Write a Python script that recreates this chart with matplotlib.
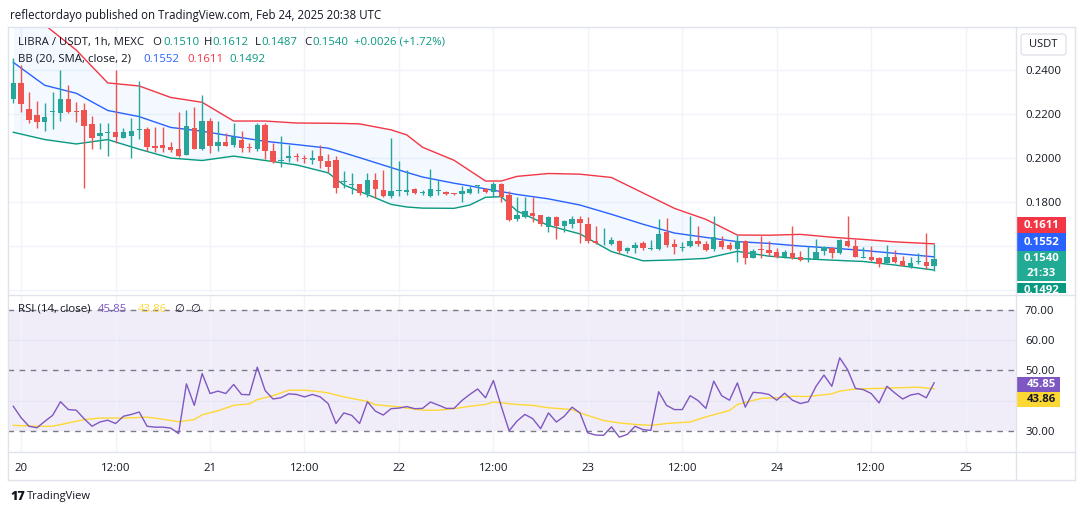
import numpy as np
import matplotlib
matplotlib.use("Agg")
import matplotlib.pyplot as plt
from matplotlib.patches import Rectangle, FancyBboxPatch
from matplotlib.lines import Line2D

plt.rcParams['font.family'] = ['Open Sans', 'DejaVu Sans']

# LIBRA/USDT 1h candles, first candle = Feb 19 23:00
opens = [0.2266, 0.2339, 0.2223, 0.2195, 0.2165, 0.2211, 0.2206, 0.2268, 0.2210, 0.2218,
         0.2155, 0.2102, 0.2112, 0.2118, 0.2093, 0.2102, 0.2126, 0.2133, 0.2055, 0.2059,
         0.2052, 0.2043, 0.2014, 0.2135, 0.2040, 0.2168, 0.2055, 0.2072, 0.2059, 0.2082,
         0.2049, 0.2041, 0.2150, 0.2032, 0.1987, 0.1999, 0.2007, 0.1997, 0.1990, 0.2010,
         0.1987, 0.1991, 0.1892, 0.1880, 0.1883, 0.1836, 0.1901, 0.1855, 0.1829, 0.1849,
         0.1845, 0.1860, 0.1842, 0.1829, 0.1851, 0.1848, 0.1838, 0.1836, 0.1843, 0.1872,
         0.1859, 0.1848, 0.1883, 0.1833, 0.1724, 0.1734, 0.1752, 0.1742, 0.1689, 0.1732,
         0.1693, 0.1701, 0.1724, 0.1701, 0.1624, 0.1613, 0.1610, 0.1624, 0.1579, 0.1594,
         0.1614, 0.1587, 0.1586, 0.1663, 0.1610, 0.1591, 0.1603, 0.1624, 0.1610, 0.1588,
         0.1624, 0.1606, 0.1586, 0.1624, 0.1548, 0.1584, 0.1585, 0.1576, 0.1551, 0.1571,
         0.1551, 0.1542, 0.1542, 0.1580, 0.1594, 0.1568, 0.1624, 0.1601, 0.1549, 0.1553,
         0.1548, 0.1526, 0.1550, 0.1533, 0.1505, 0.1527, 0.1527, 0.1510]
highs = [0.2454, 0.2422, 0.2298, 0.2259, 0.2249, 0.2298, 0.2400, 0.2332, 0.2256, 0.2249,
         0.2191, 0.2158, 0.2161, 0.2400, 0.2136, 0.2180, 0.2350, 0.2142, 0.2140, 0.2140,
         0.2074, 0.2210, 0.2218, 0.2233, 0.2286, 0.2180, 0.2168, 0.2112, 0.2158, 0.2123,
         0.2067, 0.2161, 0.2161, 0.2067, 0.2100, 0.2059, 0.2024, 0.2014, 0.2037, 0.2059,
         0.2017, 0.2010, 0.1941, 0.1934, 0.1883, 0.1931, 0.1931, 0.1946, 0.2093, 0.1987,
         0.1946, 0.1866, 0.1855, 0.1951, 0.1901, 0.1851, 0.1843, 0.1873, 0.1873, 0.1876,
         0.1866, 0.1890, 0.1885, 0.1852, 0.1825, 0.1825, 0.1825, 0.1744, 0.1737, 0.1735,
         0.1719, 0.1735, 0.1735, 0.1732, 0.1693, 0.1682, 0.1644, 0.1629, 0.1598, 0.1618,
         0.1624, 0.1629, 0.1724, 0.1730, 0.1632, 0.1618, 0.1735, 0.1692, 0.1624, 0.1735,
         0.1647, 0.1621, 0.1651, 0.1629, 0.1587, 0.1648, 0.1622, 0.1594, 0.1581, 0.1692,
         0.1580, 0.1601, 0.1633, 0.1602, 0.1598, 0.1632, 0.1735, 0.1632, 0.1595, 0.1601,
         0.1553, 0.1606, 0.1583, 0.1556, 0.1551, 0.1568, 0.1662, 0.1612]
lows = [0.2251, 0.2210, 0.2161, 0.2138, 0.2124, 0.2131, 0.2168, 0.2203, 0.2165, 0.1863,
        0.2040, 0.2043, 0.2011, 0.2067, 0.2090, 0.2002, 0.2087, 0.2034, 0.2029, 0.2029,
        0.2029, 0.2006, 0.2012, 0.2039, 0.2037, 0.2024, 0.2034, 0.2055, 0.2052, 0.2029,
        0.2029, 0.2034, 0.1996, 0.1976, 0.1961, 0.1984, 0.1987, 0.1976, 0.1972, 0.1954,
        0.1936, 0.1843, 0.1863, 0.1836, 0.1833, 0.1825, 0.1820, 0.1825, 0.1819, 0.1828,
        0.1833, 0.1839, 0.1833, 0.1825, 0.1833, 0.1833, 0.1833, 0.1802, 0.1837, 0.1840,
        0.1840, 0.1825, 0.1802, 0.1715, 0.1715, 0.1727, 0.1712, 0.1693, 0.1666, 0.1633,
        0.1666, 0.1682, 0.1616, 0.1616, 0.1609, 0.1606, 0.1606, 0.1564, 0.1571, 0.1571,
        0.1583, 0.1585, 0.1583, 0.1595, 0.1564, 0.1579, 0.1598, 0.1601, 0.1579, 0.1579,
        0.1586, 0.1583, 0.1530, 0.1520, 0.1546, 0.1546, 0.1557, 0.1548, 0.1548, 0.1541,
        0.1535, 0.1527, 0.1541, 0.1561, 0.1546, 0.1564, 0.1595, 0.1550, 0.1546, 0.1535,
        0.1508, 0.1523, 0.1526, 0.1511, 0.1500, 0.1520, 0.1496, 0.1487]
closes = [0.2342, 0.2244, 0.2173, 0.2165, 0.2185, 0.2214, 0.2268, 0.2210, 0.2209, 0.2147,
          0.2093, 0.2114, 0.2118, 0.2097, 0.2118, 0.2123, 0.2132, 0.2049, 0.2047, 0.2047,
          0.2037, 0.2011, 0.2146, 0.2041, 0.2168, 0.2056, 0.2072, 0.2056, 0.2094, 0.2047,
          0.2046, 0.2150, 0.2034, 0.1981, 0.1989, 0.2010, 0.2005, 0.1995, 0.2002, 0.1988,
          0.1961, 0.1863, 0.1894, 0.1882, 0.1840, 0.1901, 0.1859, 0.1829, 0.1851, 0.1851,
          0.1855, 0.1843, 0.1844, 0.1859, 0.1852, 0.1837, 0.1836, 0.1851, 0.1859, 0.1873,
          0.1845, 0.1881, 0.1825, 0.1719, 0.1742, 0.1760, 0.1739, 0.1700, 0.1732, 0.1693,
          0.1715, 0.1722, 0.1704, 0.1625, 0.1614, 0.1614, 0.1629, 0.1580, 0.1591, 0.1606,
          0.1591, 0.1588, 0.1656, 0.1606, 0.1595, 0.1598, 0.1624, 0.1609, 0.1583, 0.1641,
          0.1598, 0.1586, 0.1624, 0.1546, 0.1580, 0.1582, 0.1570, 0.1551, 0.1573, 0.1546,
          0.1538, 0.1543, 0.1576, 0.1595, 0.1568, 0.1629, 0.1603, 0.1553, 0.1551, 0.1538,
          0.1520, 0.1553, 0.1530, 0.1512, 0.1526, 0.1528, 0.1511, 0.1540]

# Bollinger bands (20, 2) read at some candles
bb_idx = [0, 4, 8, 12, 16, 20, 24, 28, 32, 36, 40, 42, 44, 48, 50, 52, 56, 58, 60, 62,
          64, 68, 72, 76, 80, 84, 88, 92, 96, 100, 104, 108, 112, 117]
bb_upper = [0.2712, 0.2604, 0.2490, 0.2341, 0.2327, 0.2275, 0.2253, 0.2168, 0.2168, 0.2159,
            0.2158, 0.2157, 0.2155, 0.2128, 0.2105, 0.2049, 0.1990, 0.1943, 0.1896, 0.1896,
            0.1917, 0.1930, 0.1927, 0.1912, 0.1842, 0.1772, 0.1722, 0.1651, 0.1650, 0.1654,
            0.1641, 0.1631, 0.1620, 0.1611]
bb_mid = [0.2434, 0.2330, 0.2294, 0.2216, 0.2188, 0.2139, 0.2122, 0.2098, 0.2076, 0.2061,
          0.2045, 0.2024, 0.2002, 0.1957, 0.1935, 0.1914, 0.1886, 0.1874, 0.1860, 0.1848,
          0.1835, 0.1815, 0.1787, 0.1745, 0.1700, 0.1660, 0.1640, 0.1621, 0.1613, 0.1601,
          0.1592, 0.1581, 0.1568, 0.1552]
bb_lower = [0.2117, 0.2084, 0.2064, 0.2084, 0.2040, 0.2000, 0.1989, 0.2009, 0.1989, 0.1969,
            0.1933, 0.1878, 0.1849, 0.1790, 0.1778, 0.1773, 0.1772, 0.1787, 0.1822, 0.1825,
            0.1760, 0.1694, 0.1656, 0.1576, 0.1534, 0.1538, 0.1545, 0.1577, 0.1555, 0.1544,
            0.1537, 0.1531, 0.1515, 0.1492]

# RSI (14) per candle
rsi = [38.1, 34.3, 31.5, 31.0, 33.1, 35.1, 39.6, 37.0, 36.8, 34.0,
       31.5, 32.9, 33.5, 32.4, 34.8, 35.4, 36.2, 31.5, 31.2, 31.2,
       30.9, 29.1, 45.5, 38.4, 48.9, 42.3, 43.1, 42.3, 45.3, 42.0,
       41.9, 51.0, 43.3, 40.5, 40.9, 42.2, 42.0, 41.2, 42.0, 41.2,
       39.0, 32.4, 35.9, 35.1, 32.4, 39.6, 36.5, 35.2, 37.3, 37.5,
       38.0, 37.3, 37.4, 39.5, 38.5, 37.4, 37.4, 40.0, 42.0, 43.8,
       40.9, 46.6, 38.1, 30.0, 33.2, 35.4, 34.0, 30.7, 35.9, 32.9,
       34.8, 37.8, 35.9, 29.3, 28.6, 28.5, 31.3, 27.9, 28.8, 31.5,
       30.4, 30.1, 42.9, 38.4, 37.0, 37.0, 41.6, 40.0, 37.4, 46.4,
       41.6, 40.1, 45.8, 37.8, 42.7, 42.5, 42.0, 40.1, 42.4, 40.1,
       39.0, 39.6, 44.7, 48.4, 44.7, 54.1, 50.2, 44.0, 43.6, 42.3,
       39.2, 44.7, 42.5, 40.5, 41.8, 42.3, 40.9, 45.85]

# RSI-based moving average, read at some candles
ma_idx = [0, 3, 5, 7, 9, 11, 14, 17, 18, 21, 23, 24, 26, 28, 30, 31, 33, 35, 37, 39,
          40, 42, 45, 46, 49, 52, 54, 56, 58, 60, 61, 64, 66, 68, 71, 72, 75, 77, 79, 81,
          83, 84, 86, 88, 91, 92, 95, 97, 99, 101, 104, 105, 107, 110, 115, 117]
ma_vals = [31.8, 31.5, 31.5, 32.6, 33.7, 34.2, 34.2, 34.5, 34.2, 33.0, 33.7, 35.3, 36.6, 38.4,
           38.9, 40.3, 41.6, 43.4, 43.4, 42.9, 42.5, 41.2, 39.7, 38.6, 37.9, 36.8, 36.8, 37.3,
           38.1, 38.7, 39.5, 38.7, 38.4, 37.6, 37.0, 35.9, 33.4, 32.6, 32.1, 31.8, 32.4, 32.6,
           32.9, 34.6, 36.7, 38.7, 40.7, 40.9, 41.4, 41.3, 42.2, 43.1, 43.8, 44.0, 44.4, 43.86]

price_ticks = [0.14, 0.16, 0.18, 0.20, 0.22, 0.24]
price_labels = ['', '', '0.1800', '0.2000', '0.2200', '0.2400']
rsi_ticks = [30, 50, 60, 70]
rsi_labels = ['30.00', '50.00', '60.00', '70.00']
time_ticks = [0, 12, 24, 36, 48, 60, 72, 84, 96, 108, 120]
time_labels = ['20', '12:00', '21', '12:00', '22', '12:00', '23', '12:00', '24', '12:00', '25']

UP, DOWN = '#26a69a', '#ef5350'
TXT = '#131722'
GRID = '#f0f3fa'
BORDER = '#e0e3eb'

o, h, l, c = map(np.array, (opens, highs, lows, closes))
hours = np.arange(len(o)) - 1          # hours after Feb 20 00:00
bbx = np.array(bb_idx) - 1
max_ = np.array(ma_idx) - 1

W, H = 1080, 515
fig = plt.figure(figsize=(W / 100, H / 100), dpi=100)


def fx(px):
    return px / W


def fy(py):
    return 1 - py / H


def rect(x0, y0, x1, y1):
    return [fx(x0), fy(y1), fx(x1) - fx(x0), fy(y0) - fy(y1)]


# ---------- price pane ----------
ax = fig.add_axes(rect(8, 28, 1016, 293))
ax.set_xlim(-1.67, 126.4)
ax.set_ylim(0.1388, 0.2590)
for s in ax.spines.values():
    s.set_visible(False)
ax.set_xticks(time_ticks)
ax.set_xticklabels([])
ax.yaxis.tick_right()
ax.set_yticks(price_ticks)
ax.set_yticklabels(price_labels)
ax.tick_params(axis='both', length=0, labelsize=8.2, labelcolor=TXT, pad=6.5)
ax.grid(color=GRID, lw=1)
ax.set_axisbelow(True)

ax.fill_between(bbx, bb_upper, bb_lower, color='#2196f3', alpha=0.05, lw=0)
ax.plot(bbx, bb_upper, color='#f23645', lw=1.0, zorder=2)
ax.plot(bbx, bb_mid, color='#2962ff', lw=1.0, zorder=2)
ax.plot(bbx, bb_lower, color='#089981', lw=1.0, zorder=2)

cols = np.where(c >= o, UP, DOWN)
ax.vlines(hours, l, h, colors=cols, lw=1.0, zorder=3)
ax.bar(hours, np.maximum(np.abs(c - o), 0.0004), bottom=np.minimum(o, c),
       width=0.68, color=cols, lw=0, zorder=4)

# ---------- RSI pane ----------
ax2 = fig.add_axes(rect(8, 296, 1016, 452))
ax2.set_xlim(-1.67, 126.4)
ax2.set_ylim(23.0, 74.5)
for s in ax2.spines.values():
    s.set_visible(False)
ax2.yaxis.tick_right()
ax2.set_yticks(rsi_ticks)
ax2.set_yticklabels(rsi_labels)
ax2.set_xticks(time_ticks)
ax2.set_xticklabels(time_labels)
ax2.tick_params(axis='both', length=0, labelsize=8.2, labelcolor=TXT)
ax2.tick_params(axis='y', pad=6.5)
ax2.tick_params(axis='x', pad=8)
ax2.grid(axis='x', color=GRID, lw=1)
ax2.set_axisbelow(True)
for lvl in (40, 60):
    ax2.axhline(lvl, color=GRID, lw=1, zorder=0)
ax2.axhspan(30, 70, color='#7e57c2', alpha=0.1, lw=0, zorder=0.5)
for lvl in (30, 50, 70):
    ax2.axhline(lvl, color='#787b86', lw=1, ls=(0, (4, 4)), zorder=1)
ax2.plot(max_, ma_vals, color='#fdd835', lw=1.0, zorder=2)
ax2.plot(hours, rsi, color='#7e57c2', lw=1.0, zorder=3)

# ---------- right scale labels ----------
sp = fig.add_axes(rect(1016, 28, 1075, 293))
sp.set_xlim(1016, 1075)
sp.set_ylim(293, 28)
sp.axis('off')


def tag(axs, y0, y1, color, lines, tcol='white', x1=1066):
    axs.add_patch(Rectangle((1017, y0), x1 - 1017, y1 - y0, color=color, lw=0))
    step = (y1 - y0) / len(lines)
    for k, t in enumerate(lines):
        axs.text(1041.5, y0 + step * (k + 0.5), t, color=tcol, ha='center', va='center',
                 fontsize=8.2, fontweight='bold', clip_on=True)


sp.add_patch(FancyBboxPatch((1021, 34), 45, 21, boxstyle='round,pad=0,rounding_size=3',
                            fc='white', ec=BORDER, lw=1))
sp.text(1043.5, 44.5, 'USDT', ha='center', va='center', fontsize=8, color=TXT)
tag(sp, 216.7, 233.3, '#f23645', ['0.1611'])
tag(sp, 233.3, 251, '#2962ff', ['0.1552'])
tag(sp, 251, 281, '#22ab94', ['0.1540', '21:33'])
tag(sp, 282.5, 298, '#089981', ['0.1492'])

sr = fig.add_axes(rect(1016, 296, 1075, 452))
sr.set_xlim(1016, 1075)
sr.set_ylim(452, 296)
sr.axis('off')
tag(sr, 377, 392, '#7e57c2', ['45.85'], x1=1060)
tag(sr, 392, 407, '#fdd835', ['43.86'], tcol=TXT, x1=1060)

# ---------- frame lines ----------
for xs, ys in [([1016, 1016], [27, 480]), ([8, 1075], [452, 452]),
               ([8, 1075], [294.5, 294.5]), ([8, 1075], [27, 27]),
               ([8, 8], [27, 480]), ([1075, 1075], [27, 480]), ([8, 1075], [480, 480])]:
    fig.add_artist(Line2D([fx(v) for v in xs], [fy(v) for v in ys], color=BORDER, lw=1))

# ---------- texts ----------
fig.text(fx(10), fy(15), 'reflectordayo published on TradingView.com, Feb 24, 2025 20:38 UTC',
         fontsize=8.3, color=TXT, va='center')

VAL = '#089981'
legend1 = [(18, 'LIBRA / USDT, 1h, MEXC', TXT), (152, 'O', TXT), (163, '0.1510', VAL),
           (204, 'H', TXT), (212, '0.1612', VAL), (255, 'L', TXT), (261, '0.1487', VAL),
           (304, 'C', TXT), (312, '0.1540', VAL), (354, '+0.0026 (+1.72%)', VAL)]
for x, t, col in legend1:
    fig.text(fx(x), fy(42.3), t, fontsize=8.2, color=col, va='center')

legend2 = [(18, 'BB (20, SMA, close, 2)', TXT), (143, '0.1552', '#2962ff'),
           (187, '0.1611', '#f23645'), (229, '0.1492', VAL)]
for x, t, col in legend2:
    fig.text(fx(x), fy(59.3), t, fontsize=8.2, color=col, va='center')

legend3 = [(18, 'RSI (14, close)', TXT), (98, '45.85', '#7e57c2'), (138, '43.86', '#fdd835'),
           (174, '\u2205', TXT), (190, '\u2205', TXT)]
for x, t, col in legend3:
    fig.text(fx(x), fy(309), t, fontsize=8.2, color=col, va='center')

fig.text(fx(10), fy(497), '17', fontsize=9, fontweight='heavy', color=TXT, va='center')
fig.text(fx(27), fy(497), 'TradingView', fontsize=8, color=TXT, va='center')

fig.savefig('out.png', dpi=100, facecolor='white')
